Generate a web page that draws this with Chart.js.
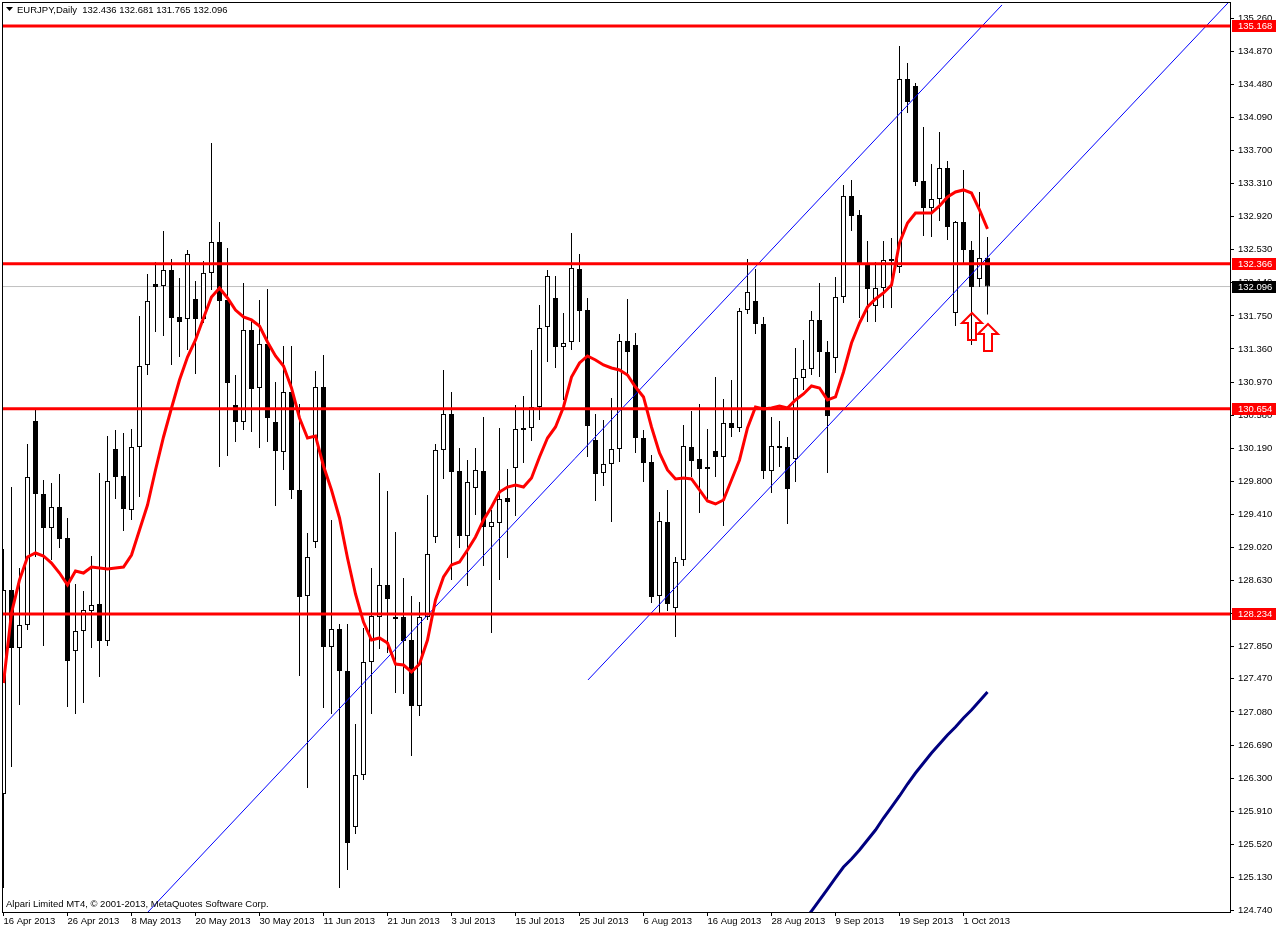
<!DOCTYPE html>
<html>
<head>
<meta charset="utf-8">
<title>EURJPY, Daily</title>
<script src="https://cdn.jsdelivr.net/npm/chart.js@4.4.0/dist/chart.umd.min.js"></script>
<style>
  html, body { margin: 0; padding: 0; background: #fff; }
  canvas { display: block; }
</style>
</head>
<body>
<canvas id="chart" width="1276" height="931"></canvas>
<script>
// EURJPY daily bars, 16 Apr 2013 .. 4 Oct 2013 (one value per bar)
const opens = [
  126.112, 128.518, 127.834, 128.105, 130.511, 129.650, 129.249, 129.496, 129.131, 127.798,
  128.034, 128.270, 128.353, 127.916, 130.180, 129.862, 129.461, 130.204, 131.171, 132.126,
  132.102, 132.291, 131.737, 131.713, 131.949, 131.713, 132.256, 132.621, 131.937, 130.699,
  130.499, 131.584, 130.900, 131.419, 130.499, 130.145, 130.852, 129.697, 128.447, 129.084,
  130.911, 127.846, 128.058, 127.563, 125.723, 126.336, 127.669, 128.199, 128.577, 128.199,
  128.199, 127.928, 127.150, 128.199, 129.143, 130.169, 130.593, 129.921, 129.154, 129.721,
  129.921, 129.261, 129.308, 129.603, 129.956, 130.428, 130.428, 130.676, 131.619, 131.961,
  131.383, 131.442, 132.303, 131.819, 130.287, 129.897, 130.004, 130.180, 131.454, 131.407,
  130.310, 130.027, 128.447, 129.320, 128.305, 128.871, 130.204, 130.062, 129.944, 130.157,
  130.086, 130.487, 130.428, 131.819, 131.926, 131.654, 129.921, 130.216, 130.204, 130.062,
  131.018, 131.124, 131.702, 131.324, 131.253, 131.973, 133.164, 132.940, 132.374, 131.867,
  132.079, 132.397, 132.327, 134.543, 134.461, 133.341, 133.022, 133.128, 133.494, 131.784,
  132.857, 132.527, 132.185, 132.436
];
const highs = [
  129.001, 129.732, 128.777, 130.239, 130.640, 129.815, 129.780, 129.886, 129.367, 128.588,
  128.506, 128.919, 129.897, 130.334, 130.404, 130.369, 130.416, 131.749, 132.244, 132.386,
  132.751, 132.421, 132.197, 132.527, 132.161, 132.397, 133.789, 132.857, 132.551, 131.053,
  132.138, 131.702, 131.937, 132.067, 130.970, 131.395, 131.395, 130.711, 129.190, 131.100,
  131.289, 129.343, 128.117, 128.117, 126.938, 128.070, 128.777, 129.897, 129.685, 129.202,
  128.659, 128.447, 128.376, 129.638, 130.239, 131.112, 130.852, 130.192, 130.051, 130.192,
  130.558, 129.461, 130.428, 129.944, 130.699, 130.805, 131.348, 131.878, 132.291, 132.220,
  131.784, 132.727, 132.480, 131.961, 130.593, 130.522, 130.782, 131.536, 131.949, 131.548,
  130.404, 130.110, 129.438, 129.697, 128.907, 130.463, 130.628, 130.711, 130.416, 131.029,
  130.770, 130.994, 131.843, 132.421, 132.303, 131.737, 130.558, 130.511, 130.322, 131.371,
  131.466, 131.808, 132.138, 131.454, 132.209, 133.293, 133.352, 132.999, 132.633, 132.386,
  132.633, 132.669, 134.933, 134.732, 134.496, 133.977, 133.541, 133.918, 133.577, 132.870,
  133.470, 132.633, 133.211, 132.681
];
const lows = [
  125.004, 126.431, 127.162, 128.046, 128.907, 127.857, 128.871, 129.013, 127.138, 127.056,
  127.185, 127.834, 127.492, 127.857, 129.591, 129.213, 129.343, 129.614, 131.053, 131.560,
  131.513, 131.171, 131.265, 131.348, 131.065, 131.666, 132.055, 129.968, 130.098, 130.263,
  130.404, 130.381, 130.192, 130.263, 129.508, 129.933, 129.591, 127.504, 126.183, 129.013,
  127.126, 127.056, 125.004, 125.216, 125.640, 126.277, 127.056, 127.822, 127.775, 127.303,
  127.291, 126.560, 127.032, 128.164, 129.072, 129.827, 128.636, 129.013, 128.565, 129.402,
  128.801, 128.011, 128.636, 128.895, 129.390, 130.015, 130.275, 130.522, 131.206, 131.136,
  130.758, 131.348, 131.442, 130.086, 129.567, 129.744, 129.320, 130.027, 131.029, 130.133,
  129.791, 128.364, 128.247, 128.270, 127.963, 128.801, 129.850, 129.426, 129.555, 129.850,
  129.272, 130.322, 130.381, 131.772, 131.536, 129.827, 129.662, 129.968, 129.296, 129.791,
  130.876, 131.053, 131.029, 129.897, 131.077, 131.902, 132.751, 131.725, 131.678, 131.678,
  131.843, 131.843, 132.256, 134.143, 133.282, 132.692, 132.680, 132.869, 132.645, 131.631,
  132.374, 131.407, 132.091, 131.765
];
const closes = [
  128.518, 127.834, 128.105, 129.850, 129.650, 129.249, 129.496, 129.119, 127.680, 128.034,
  128.282, 128.341, 127.916, 129.803, 129.850, 129.473, 130.204, 131.159, 131.926, 132.091,
  132.291, 131.725, 131.678, 132.480, 131.713, 132.256, 132.621, 131.926, 130.959, 130.499,
  131.584, 130.888, 131.419, 130.546, 130.157, 130.852, 129.697, 128.435, 128.907, 130.911,
  127.846, 128.058, 127.563, 125.534, 126.336, 127.669, 128.211, 128.577, 128.412, 128.176,
  127.916, 127.150, 128.199, 128.942, 130.169, 130.593, 129.909, 129.154, 129.791, 129.933,
  129.261, 129.320, 129.591, 129.555, 130.416, 130.404, 130.676, 131.607, 132.220, 131.383,
  131.430, 132.315, 131.808, 130.452, 129.886, 130.004, 130.180, 131.454, 131.324, 130.310,
  130.015, 128.435, 129.331, 128.353, 128.848, 130.216, 130.039, 129.944, 129.968, 130.086,
  130.487, 130.428, 131.808, 132.032, 131.654, 129.921, 130.216, 130.192, 129.709, 131.018,
  131.124, 131.702, 131.324, 130.570, 131.973, 133.164, 132.928, 132.374, 132.067, 132.079,
  132.409, 132.409, 134.543, 134.272, 133.329, 133.022, 133.128, 133.494, 132.798, 132.857,
  132.527, 132.091, 132.433, 132.096
];
// red moving average, one value per bar
const maValues = [
  127.421, 128.247, 128.636, 128.907, 128.954, 128.919, 128.836, 128.718, 128.577, 128.742,
  128.718, 128.789, 128.777, 128.765, 128.777, 128.789, 128.930, 129.225, 129.520, 129.933,
  130.322, 130.664, 130.994, 131.265, 131.466, 131.725, 131.973, 132.079, 131.961, 131.819,
  131.737, 131.702, 131.631, 131.442, 131.277, 131.159, 130.900, 130.546, 130.310, 130.334,
  129.980, 129.697, 129.367, 128.895, 128.471, 128.140, 127.928, 127.952, 127.893, 127.645,
  127.633, 127.551, 127.645, 127.928, 128.400, 128.671, 128.813, 128.848, 128.989, 129.143,
  129.343, 129.496, 129.673, 129.732, 129.756, 129.732, 129.838, 130.086, 130.310, 130.440,
  130.676, 131.029, 131.195, 131.277, 131.230, 131.171, 131.136, 131.112, 131.053, 130.911,
  130.794, 130.440, 130.133, 129.933, 129.827, 129.838, 129.827, 129.697, 129.567, 129.532,
  129.579, 129.815, 130.051, 130.428, 130.676, 130.652, 130.664, 130.687, 130.664, 130.758,
  130.829, 130.923, 130.900, 130.758, 130.794, 131.088, 131.430, 131.666, 131.855, 131.949,
  132.020, 132.114, 132.610, 132.845, 132.963, 132.963, 132.963, 133.046, 133.152, 133.211,
  133.235, 133.199, 132.999, 132.775
];
// dark blue indicator line, bars 100..123
const navyStart = 100;
const navyValues = [
  124.603, 124.732, 124.862, 124.992, 125.122, 125.251, 125.346, 125.452, 125.570, 125.688,
  125.829, 125.959, 126.089, 126.230, 126.360, 126.478, 126.596, 126.702, 126.808, 126.902,
  127.008, 127.103, 127.209, 127.315
];
// horizontal levels and current bid
const levels = [135.168, 132.366, 130.654, 128.234];
const bidPrice = 132.096;
// channel trend lines: [bar, price] end points
const trendUpper = [[18.06, 124.721], [124.81, 135.416]];
const trendLower = [[73.06, 127.457], [153.06, 135.440]];
// hollow up arrows under the last bars
const arrowBars = [121, 123];
const arrowPrices = [131.784, 131.654];
// axis ticks
const yTickValues = [
  135.260, 134.870, 134.480, 134.090, 133.700, 133.310, 132.920, 132.530, 132.140, 131.750,
  131.360, 130.970, 130.580, 130.190, 129.800, 129.410, 129.020, 128.630, 128.240, 127.850,
  127.470, 127.080, 126.690, 126.300, 125.910, 125.520, 125.130, 124.740
];
const xTickBars = [0, 8, 16, 24, 32, 40, 48, 56, 64, 72, 80, 88, 96, 104, 112, 120];
const xTickLabels = [
  '16 Apr 2013', '26 Apr 2013', '8 May 2013', '20 May 2013', '30 May 2013', '11 Jun 2013',
  '21 Jun 2013', '3 Jul 2013', '15 Jul 2013', '25 Jul 2013', '6 Aug 2013', '16 Aug 2013',
  '28 Aug 2013', '9 Sep 2013', '19 Sep 2013', '1 Oct 2013'
];
const titleText = 'EURJPY,Daily  132.436 132.681 131.765 132.096';
const footerText = 'Alpari Limited MT4, \u00a9 2001-2013, MetaQuotes Software Corp.';

// layout: 8 px per bar, plot area 2..1230 x 2..912
const X_MIN = -0.1875;
const X_MAX = X_MIN + 1228 / 8;
const Y_MIN = 124.721;
const Y_MAX = 135.451;
const FONT = 'Liberation Sans';
const FONT_SIZE = 9.5;

const idx = opens.map((_, i) => i);
const bodies = idx.map(i => ({ x: i, y: [opens[i], closes[i]] }));
const wicks = idx.map(i => ({ x: i, y: [lows[i], highs[i]] }));
const bodyFill = idx.map(i => (closes[i] >= opens[i] ? '#ffffff' : '#000000'));

function lineSet(data, color, width, order) {
  return {
    type: 'line', data, borderColor: color, borderWidth: width,
    pointRadius: 0, pointHoverRadius: 0, fill: false, tension: 0, order, clip: 0,
  };
}

const datasets = [
  lineSet(maValues.map((v, i) => ({ x: i, y: v })), '#ff0000', 3, 1),
  ...levels.map(l => lineSet([{ x: X_MIN, y: l }, { x: X_MAX, y: l }], '#ff0000', 3, 2)),
  lineSet(trendUpper.map(p => ({ x: p[0], y: p[1] })), '#0000ff', 1, 3),
  lineSet(trendLower.map(p => ({ x: p[0], y: p[1] })), '#0000ff', 1, 3),
  lineSet(navyValues.map((v, i) => ({ x: navyStart + i, y: v })), '#000080', 3, 3),
  {
    type: 'bar', data: bodies, grouped: false, barThickness: 5, minBarLength: 2,
    backgroundColor: bodyFill, borderColor: '#000', borderWidth: 1,
    borderSkipped: false, inflateAmount: 0, order: 5, clip: 0,
  },
  {
    type: 'bar', data: wicks, grouped: false, barThickness: 1,
    backgroundColor: '#000', borderWidth: 0, inflateAmount: 0, order: 6, clip: 0,
  },
  lineSet([{ x: X_MIN, y: bidPrice }, { x: X_MAX, y: bidPrice }], '#c0c0c0', 1, 7),
];

// frame, arrows, price tags, captions
const mtOverlay = {
  id: 'mtOverlay',
  afterDatasetsDraw(chart) {
    const { ctx, chartArea: a, scales: { x, y } } = chart;
    ctx.save();
    ctx.beginPath();
    ctx.rect(a.left, a.top, a.right - a.left, a.bottom - a.top);
    ctx.clip();
    ctx.strokeStyle = '#ff0000';
    ctx.lineWidth = 2;
    arrowBars.forEach((b, i) => {
      const px = Math.round(x.getPixelForValue(b)), py = Math.round(y.getPixelForValue(arrowPrices[i]));
      ctx.beginPath();
      ctx.moveTo(px, py);
      ctx.lineTo(px + 10, py + 10);
      ctx.lineTo(px + 4, py + 10);
      ctx.lineTo(px + 4, py + 27);
      ctx.lineTo(px - 4, py + 27);
      ctx.lineTo(px - 4, py + 10);
      ctx.lineTo(px - 10, py + 10);
      ctx.closePath();
      ctx.stroke();
    });
    ctx.restore();
  },
  afterDraw(chart) {
    const { ctx, chartArea: a, scales: { y } } = chart;
    ctx.save();
    ctx.strokeStyle = '#000';
    ctx.lineWidth = 1;
    ctx.strokeRect(a.left + 0.5, a.top + 0.5, a.right - a.left, a.bottom - a.top);

    ctx.font = FONT_SIZE + 'px "' + FONT + '"';
    ctx.textBaseline = 'middle';
    const tag = (price, bg) => {
      const py = Math.round(y.getPixelForValue(price));
      ctx.fillStyle = bg;
      ctx.fillRect(a.right + 2, py - 6, 46, 12);
      ctx.fillStyle = '#fff';
      ctx.fillText(price.toFixed(3), a.right + 8, py + 0.5);
    };
    levels.forEach(l => tag(l, '#ff0000'));
    tag(bidPrice, '#000000');

    ctx.fillStyle = '#000';
    ctx.beginPath();
    ctx.moveTo(6, 7); ctx.lineTo(13, 7); ctx.lineTo(9.5, 11);
    ctx.closePath();
    ctx.fill();
    ctx.fillText(titleText, 17, 10);
    ctx.fillText(footerText, 6, 904);
    ctx.restore();
  }
};

new Chart(document.getElementById('chart'), {
  type: 'bar',
  data: { datasets },
  options: {
    responsive: false,
    animation: false,
    events: [],
    layout: { padding: { left: 2, top: 2, right: 0, bottom: 0 } },
    plugins: { legend: { display: false }, tooltip: { enabled: false }, title: { display: false } },
    scales: {
      x: {
        type: 'linear', min: X_MIN, max: X_MAX, offset: false,
        grid: { display: true, drawOnChartArea: false, drawTicks: true, tickLength: 4, color: '#000', offset: false },
        border: { display: false },
        afterBuildTicks: s => { s.ticks = xTickBars.map(v => ({ value: v })); },
        afterFit: s => { s.height = 19; s.paddingLeft = 0; s.paddingRight = 0; },
        ticks: {
          autoSkip: false, maxRotation: 0, align: 'start', padding: 0, color: '#000',
          font: { family: FONT, size: FONT_SIZE },
          callback: (v, i) => xTickLabels[i],
        },
      },
      y: {
        type: 'linear', position: 'right', min: Y_MIN, max: Y_MAX,
        grid: { display: true, drawOnChartArea: false, drawTicks: true, tickLength: 4, color: '#000' },
        border: { display: false },
        afterBuildTicks: s => { s.ticks = yTickValues.map(v => ({ value: v })); },
        afterFit: s => { s.width = 46; s.paddingTop = 0; s.paddingBottom = 0; },
        ticks: {
          autoSkip: false, padding: 4, color: '#000',
          font: { family: FONT, size: FONT_SIZE },
          callback: v => Number(v).toFixed(3),
        },
      },
    },
  },
  plugins: [mtOverlay],
});
</script>
</body>
</html>
